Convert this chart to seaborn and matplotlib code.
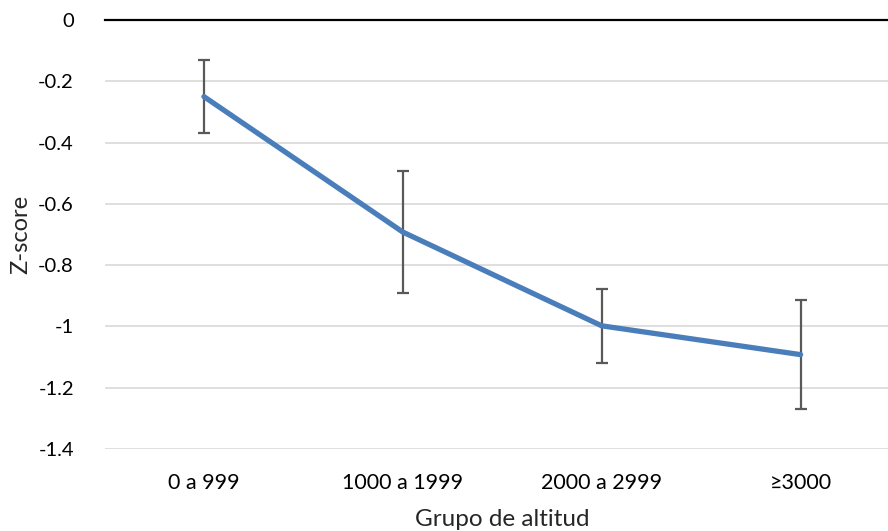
import numpy as np
import pandas as pd
import matplotlib
matplotlib.use("Agg")
import matplotlib.pyplot as plt
import seaborn as sns

# datos
grupos = ["0 a 999", "1000 a 1999", "2000 a 2999", "≥3000"]
z_media = [-0.25, -0.692, -0.998, -1.092]
z_error = [0.119, 0.199, 0.12, 0.178]

df = pd.DataFrame({"grupo": grupos, "z": z_media, "err": z_error})

sns.set_theme(style="white")
plt.rcParams["font.family"] = ["Lato", "DejaVu Sans"]

fig = plt.figure(figsize=(8.88, 5.31), dpi=100)
ax = fig.add_axes([104.5 / 888, 1 - 449 / 531, (900 - 104.5) / 888, (449 - 20) / 531])

ax.errorbar(df["grupo"], df["z"], yerr=df["err"], fmt="none",
            ecolor="#595959", elinewidth=1.6, capsize=4.5, capthick=1.6, zorder=2)
sns.lineplot(data=df, x="grupo", y="z", color="#4A7EBB", linewidth=3.8,
             ax=ax, zorder=3, sort=False)

ax.set_xlim(-0.5, 3.5)
ax.set_ylim(-1.4, 0)
ax.set_yticks(np.arange(-1.4, 0.01, 0.2))
ax.set_yticklabels(["-1.4", "-1.2", "-1", "-0.8", "-0.6", "-0.4", "-0.2", "0"])
ax.yaxis.grid(True, color="#D9D9D9", linewidth=1.2)
ax.set_axisbelow(True)

for s in ["left", "right", "bottom"]:
    ax.spines[s].set_visible(False)
ax.spines["top"].set_visible(True)
ax.spines["top"].set_color("black")
ax.spines["top"].set_linewidth(1.6)
ax.spines["top"].set_zorder(4)

ax.tick_params(axis="both", length=0, colors="black")
ax.tick_params(axis="x", pad=17, labelsize=15.5)
ax.tick_params(axis="y", pad=22, labelsize=14.5)
ax.set_xlabel("Grupo de altitud", fontsize=17.5, labelpad=12)
ax.set_ylabel("Z-score", fontsize=17, labelpad=5)

fig.savefig("out.png", dpi=100)
